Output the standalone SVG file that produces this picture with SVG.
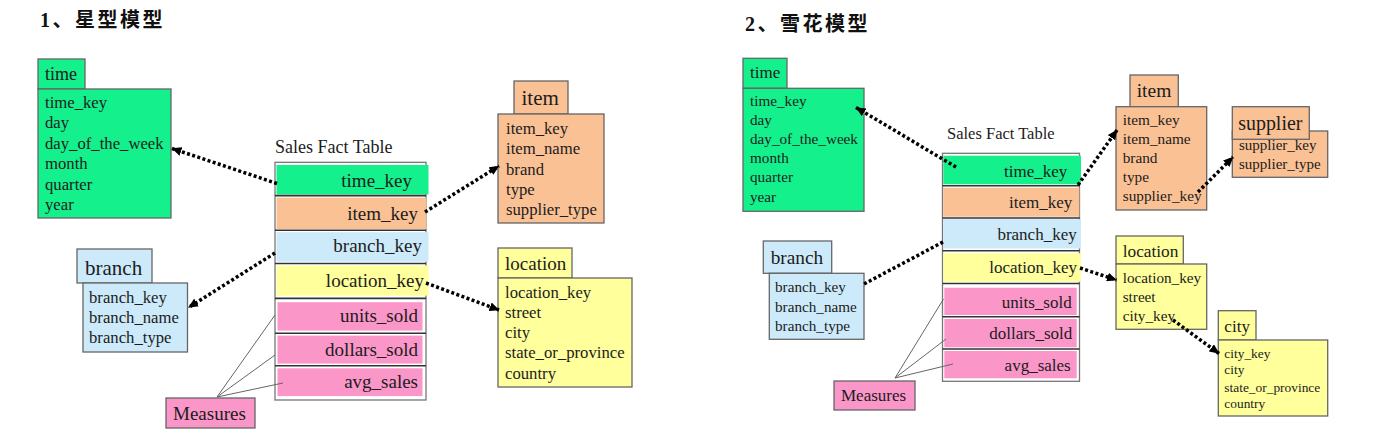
<svg xmlns="http://www.w3.org/2000/svg" width="1373" height="446" viewBox="0 0 1373 446">
<style>
text{font-family:"Liberation Serif","Times New Roman",serif;fill:#1c1c1c}
.title{font-family:"Liberation Serif","Noto Sans CJK SC",serif;font-weight:bold;font-size:20px;fill:#111;letter-spacing:2.5px}
.box{stroke:#666;stroke-width:1.3}
.g{fill:#14F08C}.o{fill:#FAC195}.b{fill:#CDEAFA}.y{fill:#FFFF9C}.p{fill:#FA96C8}
.outer{fill:#fff;stroke:#777;stroke-width:1.3}
.div{stroke:#333;stroke-width:1.6}
.dot{fill:none;stroke:#000;stroke-width:3.5;stroke-dasharray:3 2.4}
.thin{fill:none;stroke:#666;stroke-width:1}
.fl{font-size:16.7px}.fr{font-size:15.2px}
.row{text-anchor:end}
</style>
<defs>
<marker id="ah" markerUnits="userSpaceOnUse" markerWidth="10" markerHeight="9" viewBox="0 0 10 9" refX="9.5" refY="4.5" orient="auto">
<path d="M0,0 L10,4.5 L0,9 z" fill="#000"/>
</marker>
</defs>
<rect width="1373" height="446" fill="#fff"/>

<text class="title" x="40" y="27">1、星型模型</text>
<text class="title" x="745" y="31">2、雪花模型</text>

<!-- LEFT: STAR SCHEMA -->
<g id="star-time">
<rect class="box g" x="38" y="59" width="47" height="30"/>
<text x="45" y="80" font-size="18">time</text>
<rect class="box g" x="38" y="89" width="133" height="129"/>
<g class="fl">
<text x="45" y="108">time_key</text>
<text x="45" y="128.4">day</text>
<text x="45" y="148.8">day_of_the_week</text>
<text x="45" y="169.2">month</text>
<text x="45" y="189.6">quarter</text>
<text x="45" y="210">year</text>
</g>
</g>

<g id="star-item">
<rect class="box o" x="514" y="81" width="54" height="33"/>
<text x="521.5" y="105" font-size="21">item</text>
<rect class="box o" x="498" y="114" width="106" height="109"/>
<g class="fl">
<text x="506" y="134">item_key</text>
<text x="506" y="154.3">item_name</text>
<text x="506" y="174.6">brand</text>
<text x="506" y="194.9">type</text>
<text x="506" y="215.2">supplier_type</text>
</g>
</g>

<g id="star-branch">
<rect class="box b" x="77" y="249" width="75" height="34"/>
<text x="85" y="274.5" font-size="21">branch</text>
<rect class="box b" x="83" y="283" width="104.5" height="69"/>
<g class="fl">
<text x="89" y="303.3">branch_key</text>
<text x="89" y="323.3">branch_name</text>
<text x="89" y="343.3">branch_type</text>
</g>
</g>

<g id="star-location">
<rect class="box y" x="498" y="248" width="74" height="30"/>
<text x="505" y="269.5" font-size="19">location</text>
<rect class="box y" x="498" y="278" width="134" height="109"/>
<g class="fl">
<text x="505" y="297.5">location_key</text>
<text x="505" y="317.8">street</text>
<text x="505" y="338">city</text>
<text x="505" y="358.3">state_or_province</text>
<text x="505" y="378.5">country</text>
</g>
</g>

<g id="star-measures">
<rect class="box p" x="166" y="398" width="89" height="30"/>
<text x="173" y="419.5" font-size="19">Measures</text>
</g>

<g id="star-fact">
<text x="275" y="153" font-size="18">Sales Fact Table</text>
<rect class="outer" x="275" y="162.3" width="151" height="237.7"/>
<rect class="g" x="276.5" y="165" width="152" height="29.5"/>
<line class="div" x1="275" y1="195.6" x2="426" y2="195.6"/>
<rect class="o" x="276.5" y="197.6" width="150" height="31.4"/>
<line class="div" x1="275" y1="230.2" x2="426" y2="230.2"/>
<rect class="b" x="276.5" y="232.2" width="152" height="29.5"/>
<line class="div" x1="275" y1="263.5" x2="426" y2="263.5"/>
<rect class="y" x="276.5" y="265.6" width="152" height="30"/>
<line class="div" x1="275" y1="298.4" x2="426" y2="298.4"/>
<rect class="p" x="277.5" y="302.2" width="145" height="28.4"/>
<line class="div" x1="275" y1="333.3" x2="426" y2="333.3"/>
<rect class="p" x="277.5" y="335.6" width="145" height="28"/>
<line class="div" x1="275" y1="365.8" x2="426" y2="365.8"/>
<rect class="p" x="277.5" y="368.3" width="145" height="27.8"/>
<g class="row" font-size="19">
<text x="412" y="187">time_key</text>
<text x="418" y="220">item_key</text>
<text x="422" y="252">branch_key</text>
<text x="424" y="287">location_key</text>
<text x="418" y="322">units_sold</text>
<text x="418" y="356">dollars_sold</text>
<text x="418" y="387.5">avg_sales</text>
</g>
</g>

<!-- RIGHT: SNOWFLAKE SCHEMA -->
<g id="snow-time">
<rect class="box g" x="743" y="58.3" width="44" height="30"/>
<text x="750" y="78" font-size="17">time</text>
<rect class="box g" x="743" y="88.3" width="121" height="123"/>
<g class="fr">
<text x="750" y="105.5">time_key</text>
<text x="750" y="124.7">day</text>
<text x="750" y="143.9">day_of_the_week</text>
<text x="750" y="163.1">month</text>
<text x="750" y="182.3">quarter</text>
<text x="750" y="201.5">year</text>
</g>
</g>

<g id="snow-item">
<rect class="box o" x="1130" y="75" width="48.3" height="31.7"/>
<text x="1136.7" y="97.3" font-size="19.5">item</text>
<rect class="box o" x="1116" y="106.7" width="90.7" height="103.3"/>
<g font-size="15.3">
<text x="1122.7" y="125">item_key</text>
<text x="1122.7" y="144">item_name</text>
<text x="1122.7" y="163">brand</text>
<text x="1122.7" y="182">type</text>
<text x="1122.7" y="201">supplier_key</text>
</g>
</g>

<g id="snow-supplier">
<rect class="box o" x="1232.3" y="131" width="95.4" height="46.3"/>
<g font-size="15">
<text x="1239" y="150">supplier_key</text>
<text x="1239" y="169">supplier_type</text>
</g>
<rect class="box o" x="1232.3" y="106.7" width="77" height="32.6"/>
<text x="1238.3" y="130" font-size="19.9">supplier</text>
</g>

<g id="snow-branch">
<rect class="box b" x="763.3" y="241" width="68.4" height="32.3"/>
<text x="770.7" y="264.3" font-size="19.3">branch</text>
<rect class="box b" x="769.3" y="273.3" width="94.7" height="66"/>
<g class="fr">
<text x="775" y="292.3">branch_key</text>
<text x="775" y="311.7">branch_name</text>
<text x="775" y="330.9">branch_type</text>
</g>
</g>

<g id="snow-location">
<rect class="box y" x="1116" y="236" width="67.3" height="28"/>
<text x="1122.7" y="256.7" font-size="17.3">location</text>
<rect class="box y" x="1116" y="264" width="90.7" height="65.3"/>
<g class="fr">
<text x="1122.7" y="282.7">location_key</text>
<text x="1122.7" y="301.7">street</text>
<text x="1122.7" y="321">city_key</text>
</g>
</g>

<g id="snow-city">
<rect class="box y" x="1218.3" y="310.7" width="37.7" height="29.3"/>
<text x="1224.3" y="331.7" font-size="17.1">city</text>
<rect class="box y" x="1218.3" y="340" width="109.4" height="76"/>
<g font-size="13.4">
<text x="1224.3" y="357.7">city_key</text>
<text x="1224.3" y="374.3">city</text>
<text x="1224.3" y="391.5">state_or_province</text>
<text x="1224.3" y="408.3">country</text>
</g>
</g>

<g id="snow-measures">
<rect class="box p" x="834" y="381" width="81" height="29"/>
<text x="841" y="400.7" font-size="17">Measures</text>
</g>

<g id="snow-fact">
<text x="947" y="139.3" font-size="16.5">Sales Fact Table</text>
<rect class="outer" x="942.5" y="153.3" width="137" height="228"/>
<rect class="g" x="943.3" y="155.7" width="137.7" height="28.6"/>
<line class="div" x1="942.5" y1="185.8" x2="1079.5" y2="185.8"/>
<rect class="o" x="943.3" y="187.7" width="136" height="29"/>
<line class="div" x1="942.5" y1="218" x2="1079.5" y2="218"/>
<rect class="b" x="943.3" y="219.2" width="137.7" height="29.3"/>
<line class="div" x1="942.5" y1="250.7" x2="1079.5" y2="250.7"/>
<rect class="y" x="943.3" y="253.3" width="137.7" height="28.4"/>
<line class="div" x1="942.5" y1="283.5" x2="1079.5" y2="283.5"/>
<rect class="p" x="944.3" y="287.7" width="132.4" height="27.3"/>
<line class="div" x1="942.5" y1="316.8" x2="1079.5" y2="316.8"/>
<rect class="p" x="944.3" y="319" width="132.4" height="28.3"/>
<line class="div" x1="942.5" y1="349" x2="1079.5" y2="349"/>
<rect class="p" x="944.3" y="351" width="132.4" height="27.3"/>
<g class="row" font-size="17">
<text x="1067.3" y="176.7">time_key</text>
<text x="1072.3" y="208.3">item_key</text>
<text x="1076.7" y="240">branch_key</text>
<text x="1077" y="273.3">location_key</text>
<text x="1071.7" y="308.3">units_sold</text>
<text x="1072.3" y="339.3">dollars_sold</text>
<text x="1070.7" y="370.7">avg_sales</text>
</g>
</g>

<g id="connectors">
<line class="dot" x1="277" y1="183.5" x2="172" y2="148.5" marker-end="url(#ah)"/>
<line class="dot" x1="425" y1="212" x2="499" y2="166" marker-end="url(#ah)"/>
<line class="dot" x1="275" y1="253" x2="188.5" y2="307.5" marker-end="url(#ah)"/>
<line class="dot" x1="426" y1="283" x2="499" y2="310" marker-end="url(#ah)"/>
<path class="thin" d="M217,397 L275,315 M217,397 L275,355 M217,397 L283,383"/>

<line class="dot" x1="956" y1="167" x2="856" y2="107.5" marker-end="url(#ah)"/>
<line class="dot" x1="1078" y1="185" x2="1117" y2="130" marker-end="url(#ah)"/>
<line class="dot" x1="943" y1="242" x2="864" y2="284"/>
<line class="dot" x1="1080" y1="268" x2="1116.5" y2="280" marker-end="url(#ah)"/>
<line class="dot" x1="1198" y1="192" x2="1233" y2="157" marker-end="url(#ah)"/>
<line class="dot" x1="1173" y1="320" x2="1219" y2="353.5" marker-end="url(#ah)"/>
<path class="thin" d="M895,378 L943.5,299 M895,378 L946,339 M895,378 L953,364"/>
</g>
</svg>
